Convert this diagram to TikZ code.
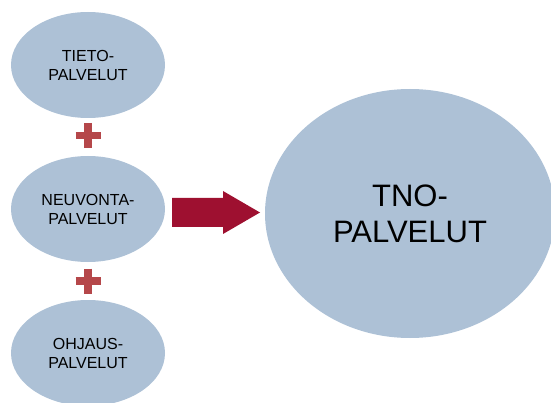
\documentclass[tikz,border=0pt]{standalone}
\usepackage{fontspec}
\setmainfont{Liberation Sans}
\usetikzlibrary{shapes.geometric}
\definecolor{pallo}{HTML}{ADC1D6}
\definecolor{risti}{HTML}{B5474A}
\definecolor{nuoli}{HTML}{9E1030}
\tikzset{
  pieni/.style={ellipse,fill=pallo,inner sep=0pt,minimum width=154pt,minimum height=106pt,
    align=center,font=\fontsize{16}{19}\selectfont},
  iso/.style={ellipse,fill=pallo,inner sep=0pt,minimum width=290pt,minimum height=249pt,
    align=center,font=\fontsize{31}{36}\selectfont},
  plusmerkki/.style={risti,line width=7.5pt}
}
\begin{document}
\begin{tikzpicture}[x=1pt,y=-1pt]
\useasboundingbox (0,0) rectangle (551,403);
\node[pieni] (tieto) at (88,65) {TIETO-\\PALVELUT};
\node[pieni] (neuvonta) at (88,209) {NEUVONTA-\\PALVELUT};
\node[pieni] (ohjaus) at (88,353) {OHJAUS-\\PALVELUT};
\node[iso] (tno) at (410,213.5) {TNO-\\PALVELUT};
% plusmerkit
\draw[plusmerkki] (75.5,135.5) -- (100.5,135.5) (88,123) -- (88,148);
\draw[plusmerkki] (75.5,281) -- (100.5,281) (88,268.5) -- (88,293.5);
% nuoli
\fill[nuoli] (172,198) -- (223,198) -- (223,191) -- (260,212.5) -- (223,234)
  -- (223,227) -- (172,227) -- cycle;
\end{tikzpicture}
\end{document}
